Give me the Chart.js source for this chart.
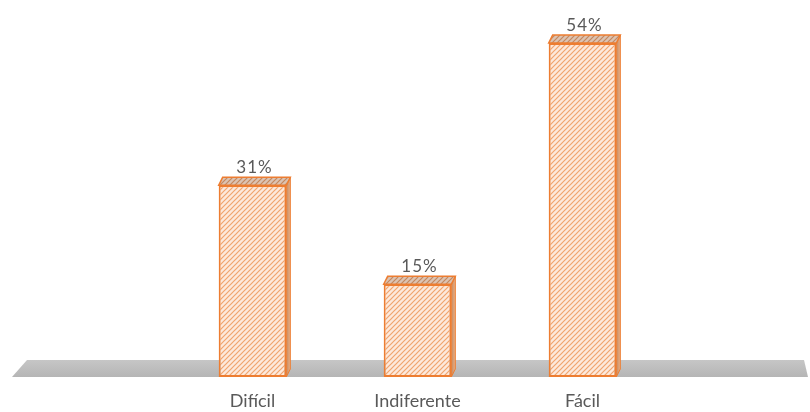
<!DOCTYPE html>
<html>
<head>
<meta charset="utf-8">
<script src="https://cdn.jsdelivr.net/npm/chart.js@4"></script>
<style>
  html, body { margin: 0; padding: 0; background: #fff; }
  #wrap { width: 810px; height: 412px; }
</style>
</head>
<body>
<div id="wrap"><canvas id="chart"></canvas></div>
<script>
const categories = ['Difícil', 'Indiferente', 'Fácil'];
const percentValues = [31, 15, 54];

// hatch fill like the office "wide upward diagonal" pattern
function makeHatch(bg, line) {
    const c = document.createElement('canvas');
    c.width = 5; c.height = 5;
    const g = c.getContext('2d');
    g.fillStyle = bg;
    g.fillRect(0, 0, 5, 5);
    g.strokeStyle = line;
    g.lineWidth = 1.2;
    g.beginPath();
    g.moveTo(-1, 6); g.lineTo(6, -1);
    g.moveTo(-4, 4); g.lineTo(4, -4);
    g.moveTo(1, 9); g.lineTo(9, 1);
    g.stroke();
    return g.createPattern(c, 'repeat');
}

const ctx = document.getElementById('chart').getContext('2d');
const frontFill = makeHatch('#fde9dc', '#f0a46e');
const topFill = makeHatch('#dcc3b2', '#c4875e');

const DEPTH_X = 4;
const DEPTH_Y = 8;

const floorPlugin = {
    id: 'floor',
    beforeDatasetsDraw(chart) {
        const c = chart.ctx;
        const b = chart.chartArea.bottom;
        const grad = c.createLinearGradient(0, b - 17, 0, b);
        grad.addColorStop(0, '#c6c6c6');
        grad.addColorStop(1, '#b5b5b5');
        c.save();
        c.fillStyle = grad;
        c.beginPath();
        c.moveTo(27, b - 17);
        c.lineTo(chart.width - 6, b - 17);
        c.lineTo(chart.width - 2, b);
        c.lineTo(12, b);
        c.closePath();
        c.fill();
        c.restore();
    }
};

const box3dPlugin = {
    id: 'box3d',
    afterDatasetsDraw(chart) {
        const c = chart.ctx;
        const meta = chart.getDatasetMeta(0);
        c.save();
        meta.data.forEach((bar, i) => {
            const x0 = bar.x - bar.width / 2;
            const x1 = bar.x + bar.width / 2;
            const y = bar.y;
            const base = bar.base;
            // side face
            const sg = c.createLinearGradient(x1, 0, x1 + DEPTH_X, 0);
            sg.addColorStop(0, '#c7875a');
            sg.addColorStop(1, '#e8b48e');
            c.fillStyle = sg;
            c.beginPath();
            c.moveTo(x1, y);
            c.lineTo(x1 + DEPTH_X, y - DEPTH_Y);
            c.lineTo(x1 + DEPTH_X, base - DEPTH_Y);
            c.lineTo(x1, base);
            c.closePath();
            c.fill();
            c.strokeStyle = '#ed7d31';
            c.lineWidth = 1;
            c.stroke();
            // top face
            c.fillStyle = topFill;
            c.beginPath();
            c.moveTo(x0, y);
            c.lineTo(x0 + DEPTH_X, y - DEPTH_Y);
            c.lineTo(x1 + DEPTH_X, y - DEPTH_Y);
            c.lineTo(x1, y);
            c.closePath();
            c.fill();
            c.lineWidth = 1.5;
            c.stroke();
            // value label
            c.fillStyle = '#595959';
            c.font = '17px Lato, "Open Sans", sans-serif';
            c.letterSpacing = '1px';
            c.textAlign = 'center';
            c.textBaseline = 'bottom';
            c.fillText(percentValues[i] + '%', bar.x + DEPTH_X / 2, y - DEPTH_Y - 1);
            c.letterSpacing = '0px';
        });
        c.restore();
    }
};

new Chart(ctx, {
    type: 'bar',
    data: {
        labels: categories,
        datasets: [{
            data: percentValues,
            backgroundColor: frontFill,
            borderColor: '#ed7d31',
            borderWidth: 2,
            borderSkipped: false,
            categoryPercentage: 1,
            barPercentage: 0.41
        }]
    },
    options: {
        responsive: true,
        maintainAspectRatio: false,
        animation: false,
        layout: { padding: { left: 170, right: 145, top: 6, bottom: 4 } },
        plugins: {
            legend: { display: false },
            tooltip: { enabled: false }
        },
        scales: {
            x: {
                grid: { display: false, drawTicks: false },
                border: { display: false },
                afterFit: (scale) => { scale.height = 31; },
                ticks: {
                    color: '#595959',
                    padding: 13,
                    font: { size: 18, family: 'Lato, "Open Sans", sans-serif' }
                }
            },
            y: {
                display: false,
                min: 0,
                max: 60
            }
        }
    },
    plugins: [floorPlugin, box3dPlugin]
});
</script>
</body>
</html>
